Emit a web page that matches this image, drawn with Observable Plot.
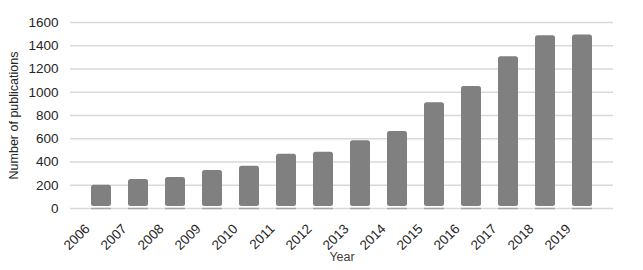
<!DOCTYPE html>
<html>
<head>
<meta charset="utf-8">
<script src="https://cdn.jsdelivr.net/npm/d3@7"></script>
<script src="https://cdn.jsdelivr.net/npm/@observablehq/plot@0.6"></script>
<style>
  html, body { margin: 0; padding: 0; background: #fff; }
  #chart svg { display: block; }
</style>
</head>
<body>
<div id="chart"></div>
<script>
const years = ["2006","2007","2008","2009","2010","2011","2012","2013","2014","2015","2016","2017","2018","2019"];
const publications = [200, 249, 266, 326, 363, 466, 483, 583, 663, 909, 1049, 1306, 1486, 1492];
const yTicks = [0, 200, 400, 600, 800, 1000, 1200, 1400, 1600];

const data = years.map((y, i) => ({year: y, count: publications[i]}));

const chart = Plot.plot({
  width: 643,
  height: 270,
  marginLeft: 70,
  marginRight: 30,
  marginTop: 22,
  marginBottom: 62,
  style: {fontFamily: "'Liberation Sans', Arial, sans-serif", fontSize: "13px", color: "#262626", background: "#fff"},
  x: {domain: years, padding: 0.46, label: null},
  y: {domain: [0, 1600], label: null},
  marks: [
    Plot.gridY(yTicks, {stroke: "#d9d9d9", strokeOpacity: 1, strokeWidth: 1.3}),
    Plot.barY(data, {x: "year", y: "count", fill: "#808080", rx: 2.5, insetBottom: 2}),
    Plot.tickY(data, {x: "year", y: 0, stroke: "#a6a6a6", strokeWidth: 1.5}),
    Plot.axisY({ticks: yTicks, tickFormat: "d", tickSize: 0, tickPadding: 12, fontSize: 13.5, label: null}),
    Plot.axisX({tickSize: 0, tickRotate: -45, tickPadding: 4, dx: -14, dy: 14, fontSize: 13.5, label: null}),
    Plot.text(["Number of publications"], {frameAnchor: "left", textAnchor: "middle", dx: -57, rotate: -90, fontSize: 12.5, fill: "#262626"}),
    Plot.text(["Year"], {frameAnchor: "bottom", dy: 52, fontSize: 12.5, fill: "#404040"})
  ]
});
document.getElementById("chart").appendChild(chart);
</script>
</body>
</html>
